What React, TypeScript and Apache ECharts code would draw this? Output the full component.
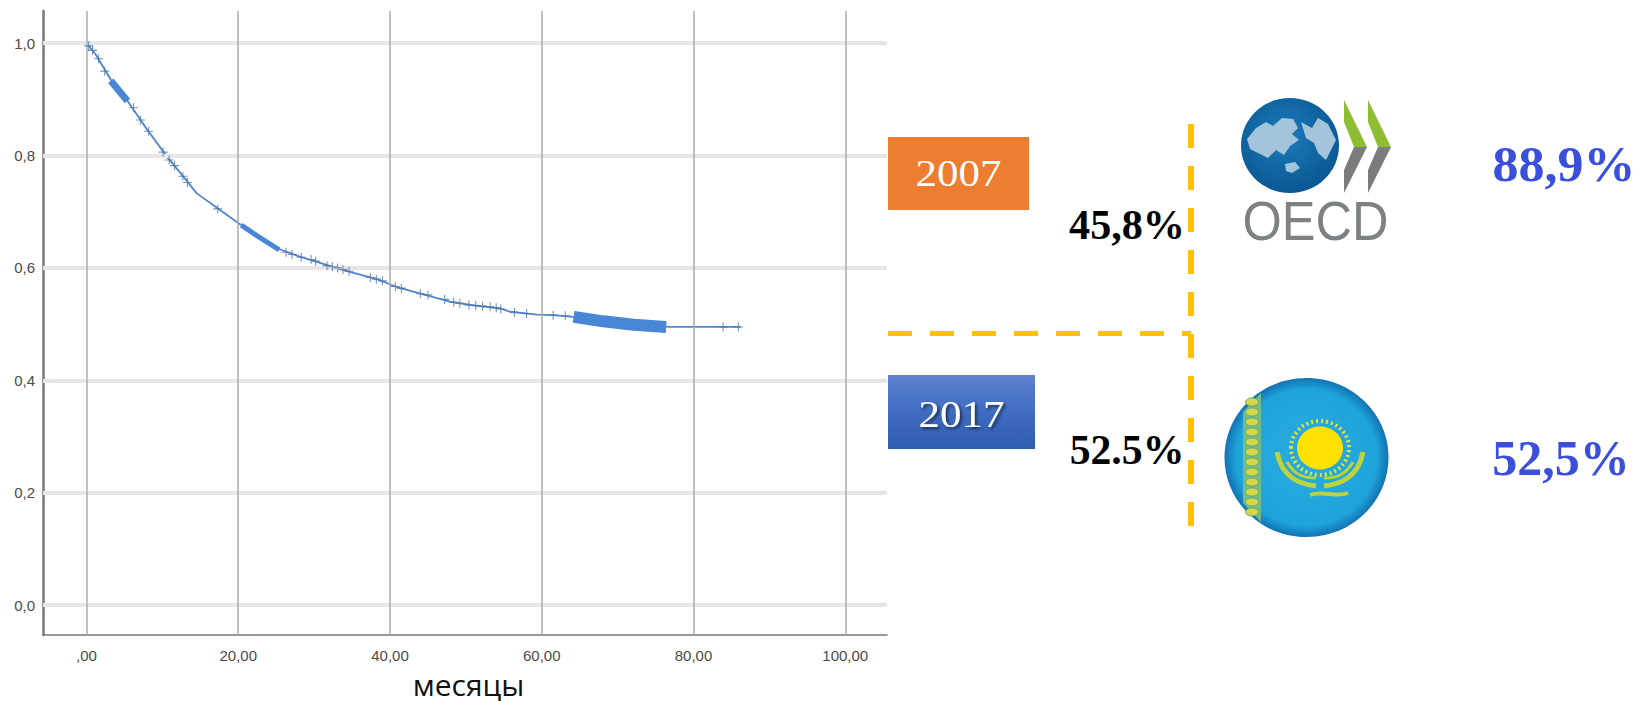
import React, { useEffect, useRef } from "react";
import * as echarts from "echarts";

const xTicks = [0, 20, 40, 60, 80, 100];
const xTickLabels = [",00", "20,00", "40,00", "60,00", "80,00", "100,00"];
const yTicks = [0, 0.2, 0.4, 0.6, 0.8, 1];
const yTickLabels = ["0,0", "0,2", "0,4", "0,6", "0,8", "1,0"];
const xAxisTitle = "месяцы";

const survivalCurve = [
  [0, 1], [1.2, 0.98], [3.5, 0.928], [5.3, 0.899], [7.9, 0.848], [10.6, 0.798],
  [12.8, 0.762], [14.5, 0.733], [17.6, 0.703], [20, 0.68], [22.4, 0.658],
  [25.1, 0.635], [28.1, 0.62], [32.5, 0.602], [34.7, 0.593], [38.3, 0.58],
  [40.9, 0.566], [44.4, 0.553], [47.9, 0.54], [50.6, 0.534], [54.5, 0.528],
  [55.8, 0.522], [59.4, 0.517], [61.5, 0.516], [64.1, 0.513], [68.1, 0.505],
  [72.1, 0.499], [76.7, 0.495], [86.2, 0.495],
];
const denseEarly = [[3.2, 0.933], [5.4, 0.897]];
const denseMiddle = [[20.4, 0.676], [22.4, 0.658], [25.4, 0.632]];
const denseLate = [[64.2, 0.513], [68.1, 0.505], [72.1, 0.499], [76.4, 0.495]];
const censored = [
  [0.3, 0.995], [0.8, 0.987], [1.6, 0.972], [2.4, 0.95], [6.2, 0.885], [7.1, 0.863], [8.2, 0.843],
  [10.1, 0.806], [10.9, 0.792], [11.6, 0.782], [12.7, 0.763], [13.3, 0.752], [17.3, 0.705],
  [26.3, 0.628], [27.1, 0.624], [28.3, 0.619], [29.6, 0.615], [30.2, 0.612], [31.7, 0.604],
  [32.4, 0.602], [33.1, 0.6], [33.8, 0.597], [34.6, 0.594], [37.4, 0.583], [38.2, 0.58],
  [39, 0.577], [40.7, 0.567], [41.5, 0.564], [44, 0.554], [45, 0.552], [47.2, 0.544],
  [48.4, 0.539], [49.2, 0.537], [50.4, 0.534], [51.3, 0.533], [52.2, 0.532], [53.2, 0.531],
  [54, 0.529], [54.6, 0.527], [56.4, 0.521], [58, 0.519], [61.5, 0.516], [63.1, 0.515],
  [83.9, 0.495], [85.9, 0.495],
];

const YELLOW = "#FFC000";
const BLUE_TEXT = "#3A4FDC";
const SERIF = '"Liberation Serif", serif';
const DASH = [24, 18];

const plus = "path://M4.4 0H5.6V4.4H10V5.6H5.6V10H4.4V5.6H0V4.4H4.4Z";

function valueLabel(text: string, x: number, y: number, size: number, fill: string, scaleX: number) {
  return {
    type: "text",
    x,
    y,
    scaleX,
    style: { text, fill, font: `bold ${size}px ${SERIF}`, align: "center", verticalAlign: "middle" },
    z: 10,
  };
}

function yearLabel(text: string, x: number, y: number, shadow: boolean) {
  return {
    type: "text",
    x,
    y,
    scaleX: 1.13,
    style: {
      text,
      fill: "#ffffff",
      font: `38px ${SERIF}`,
      align: "center",
      verticalAlign: "middle",
      textShadowColor: shadow ? "rgba(0,0,0,0.55)" : "transparent",
      textShadowBlur: shadow ? 3 : 0,
      textShadowOffsetX: shadow ? 2 : 0,
      textShadowOffsetY: shadow ? 2 : 0,
    },
    z: 10,
  };
}

function oecdLogo() {
  const sea = new echarts.graphic.RadialGradient(0.45, 0.4, 0.65, [
    { offset: 0, color: "#1c7cba" },
    { offset: 1, color: "#08558f" },
  ]);
  const land = "#a3c4da";
  const chevron = (dx: number) => [
    {
      type: "polygon",
      shape: { points: [[1344 + dx, 100], [1367 + dx, 147], [1354 + dx, 147], [1344 + dx, 122]] },
      style: { fill: "#8fbd31" },
    },
    {
      type: "polygon",
      shape: { points: [[1367 + dx, 147], [1344 + dx, 193], [1344 + dx, 170], [1354 + dx, 147]] },
      style: { fill: "#7c7c7c" },
    },
  ];
  return [
    { type: "ellipse", shape: { cx: 1290, cy: 145.5, rx: 49, ry: 47.5 }, style: { fill: sea } },
    {
      type: "polygon",
      shape: {
        points: [
          [1256, 128], [1266, 122], [1273, 126], [1282, 118], [1293, 119], [1298, 128], [1292, 134],
          [1299, 140], [1290, 146], [1284, 155], [1276, 150], [1268, 158], [1260, 154], [1250, 149], [1247, 139],
        ],
      },
      style: { fill: land },
    },
    {
      type: "polygon",
      shape: {
        points: [
          [1301, 122], [1312, 128], [1318, 118], [1328, 124], [1336, 140], [1331, 150], [1326, 160],
          [1318, 153], [1314, 143], [1306, 138],
        ],
      },
      style: { fill: land },
    },
    {
      type: "polygon",
      shape: { points: [[1285, 164], [1295, 162], [1300, 168], [1292, 173], [1286, 171]] },
      style: { fill: land },
    },
    ...chevron(0),
    ...chevron(24),
    {
      type: "text",
      x: 1315.5,
      y: 221,
      scaleX: 0.92,
      style: {
        text: "OECD",
        fill: "#7d8184",
        font: '55px "Liberation Sans", sans-serif',
        align: "center",
        verticalAlign: "middle",
      },
    },
  ];
}

function flagLogo() {
  const sky = new echarts.graphic.RadialGradient(0.5, 0.5, 0.5, [
    { offset: 0, color: "#2bacde" },
    { offset: 0.86, color: "#1ea3da" },
    { offset: 1, color: "#1273b2" },
  ]);
  const band = [];
  for (let y = 402; y <= 516; y += 10) {
    band.push({
      type: "ellipse",
      shape: { cx: 1252, cy: y, rx: 6.5, ry: 4 },
      style: { fill: "#d6d64a", stroke: "#5fae6d", lineWidth: 1 },
    });
  }
  const wing = (a: number[], b: number[], c: number[], d: number[], w: number) => ({
    type: "bezierCurve",
    shape: { x1: a[0], y1: a[1], cpx1: b[0], cpy1: b[1], cpx2: c[0], cpy2: c[1], x2: d[0], y2: d[1] },
    style: { fill: "none", stroke: "#bcd23e", lineWidth: w },
  });
  return [
    { type: "ellipse", shape: { cx: 1306.5, cy: 457.5, rx: 82, ry: 79.5 }, style: { fill: sky } },
    {
      type: "polygon",
      shape: { points: [[1243, 412], [1261, 393], [1261, 522], [1243, 503]] },
      style: { fill: "#74bb8c" },
    },
    ...band,
    {
      type: "ellipse",
      shape: { cx: 1320, cy: 448, rx: 29, ry: 27 },
      style: { fill: "none", stroke: "#e6e23a", lineWidth: 4, lineDash: [2, 3] },
    },
    { type: "ellipse", shape: { cx: 1320, cy: 448, rx: 23, ry: 21.5 }, style: { fill: "#ffe100" } },
    wing([1277, 452], [1282, 478], [1300, 484], [1316, 486], 5),
    wing([1363, 452], [1358, 478], [1340, 484], [1324, 486], 5),
    wing([1287, 462], [1295, 476], [1305, 478], [1316, 478], 3),
    wing([1353, 462], [1345, 476], [1335, 478], [1324, 478], 3),
    wing([1310, 495], [1322, 490], [1336, 498], [1348, 493], 4),
  ];
}

export default function App() {
  const ref = useRef<HTMLDivElement>(null);

  useEffect(() => {
    document.body.style.margin = "0";
    const chart = echarts.init(ref.current!, null, { renderer: "svg" });
    const curveColor = "#4f86cc";
    const denseLine = (data: number[][], width: number) => ({
      type: "line",
      data,
      showSymbol: false,
      silent: true,
      z: 4,
      lineStyle: { color: "#4a86d6", width },
    });
    chart.setOption({
      animation: false,
      backgroundColor: "#ffffff",
      grid: { left: 43, top: 11, width: 844, height: 624, outerBoundsMode: "none" },
      xAxis: {
        type: "value",
        min: -5.73,
        max: 105.5,
        axisLine: { onZero: false, lineStyle: { color: "#777777", width: 1.5 } },
        axisTick: { show: false, customValues: xTicks },
        splitLine: { show: false },
        axisLabel: {
          customValues: xTicks,
          color: "#4a4a4a",
          fontSize: 15,
          margin: 13,
          fontFamily: '"Liberation Sans", sans-serif',
          formatter: (v: number) => xTickLabels[xTicks.indexOf(v)] ?? "",
        },
      },
      yAxis: {
        type: "value",
        min: -0.053,
        max: 1.057,
        axisLine: { show: true, onZero: false, lineStyle: { color: "#777777", width: 2.5 } },
        axisTick: { show: false, customValues: yTicks },
        splitLine: { show: false },
        axisLabel: {
          customValues: yTicks,
          color: "#4a4a4a",
          fontSize: 15,
          margin: 8,
          fontFamily: '"Liberation Sans", sans-serif',
          formatter: (v: number) => yTickLabels[yTicks.findIndex((t) => Math.abs(t - v) < 1e-6)] ?? "",
        },
      },
      series: [
        {
          type: "line",
          data: [],
          z: 1,
          silent: true,
          markLine: {
            silent: true,
            symbol: "none",
            label: { show: false },
            lineStyle: { color: "#e6e6e6", width: 4, type: "solid" },
            data: yTicks.map((t) => ({ yAxis: t })),
          },
        },
        {
          type: "line",
          data: [],
          z: 2,
          silent: true,
          markLine: {
            silent: true,
            symbol: "none",
            label: { show: false },
            lineStyle: { color: "#ababab", width: 1.5, type: "solid" },
            data: xTicks.map((t) => ({ xAxis: t })),
          },
        },
        {
          type: "line",
          data: survivalCurve,
          showSymbol: false,
          silent: true,
          z: 3,
          lineStyle: { color: curveColor, width: 1.8 },
        },
        denseLine(denseEarly, 7),
        denseLine(denseMiddle, 5),
        denseLine(denseLate, 12),
        {
          type: "scatter",
          data: censored,
          symbol: plus,
          symbolSize: 9,
          silent: true,
          z: 5,
          itemStyle: { color: "#5078a8" },
        },
      ],
      graphic: [
        {
          type: "text",
          x: 468.5,
          y: 684,
          style: {
            text: xAxisTitle,
            fill: "#111111",
            font: '30px "Open Sans", sans-serif',
            align: "center",
            verticalAlign: "middle",
          },
        },
        { type: "rect", shape: { x: 888, y: 137, width: 141, height: 73 }, style: { fill: "#ED7D31" } },
        yearLabel("2007", 958.5, 173, false),
        {
          type: "rect",
          shape: { x: 888, y: 375, width: 147, height: 74 },
          style: {
            fill: new echarts.graphic.LinearGradient(0, 0, 0, 1, [
              { offset: 0, color: "#5f82cc" },
              { offset: 0.5, color: "#3f6cc2" },
              { offset: 1, color: "#2f5db0" },
            ]),
          },
        },
        yearLabel("2017", 961.5, 414, true),
        {
          type: "line",
          shape: { x1: 888, y1: 333.5, x2: 1191, y2: 333.5 },
          style: { stroke: YELLOW, lineWidth: 5, lineDash: DASH },
        },
        {
          type: "line",
          shape: { x1: 1191, y1: 124, x2: 1191, y2: 526 },
          style: { stroke: YELLOW, lineWidth: 6, lineDash: DASH },
        },
        valueLabel("45,8%", 1127, 224, 43, "#000000", 0.98),
        valueLabel("52.5%", 1127, 449.5, 43, "#000000", 0.97),
        valueLabel("88,9%", 1564, 164, 50, BLUE_TEXT, 1.04),
        valueLabel("52,5%", 1561, 458, 50, BLUE_TEXT, 1.0),
        ...oecdLogo(),
        ...flagLogo(),
      ],
    });
    return () => chart.dispose();
  }, []);

  return <div ref={ref} style={{ position: "absolute", left: 0, top: 0, width: 1637, height: 701 }} />;
}
